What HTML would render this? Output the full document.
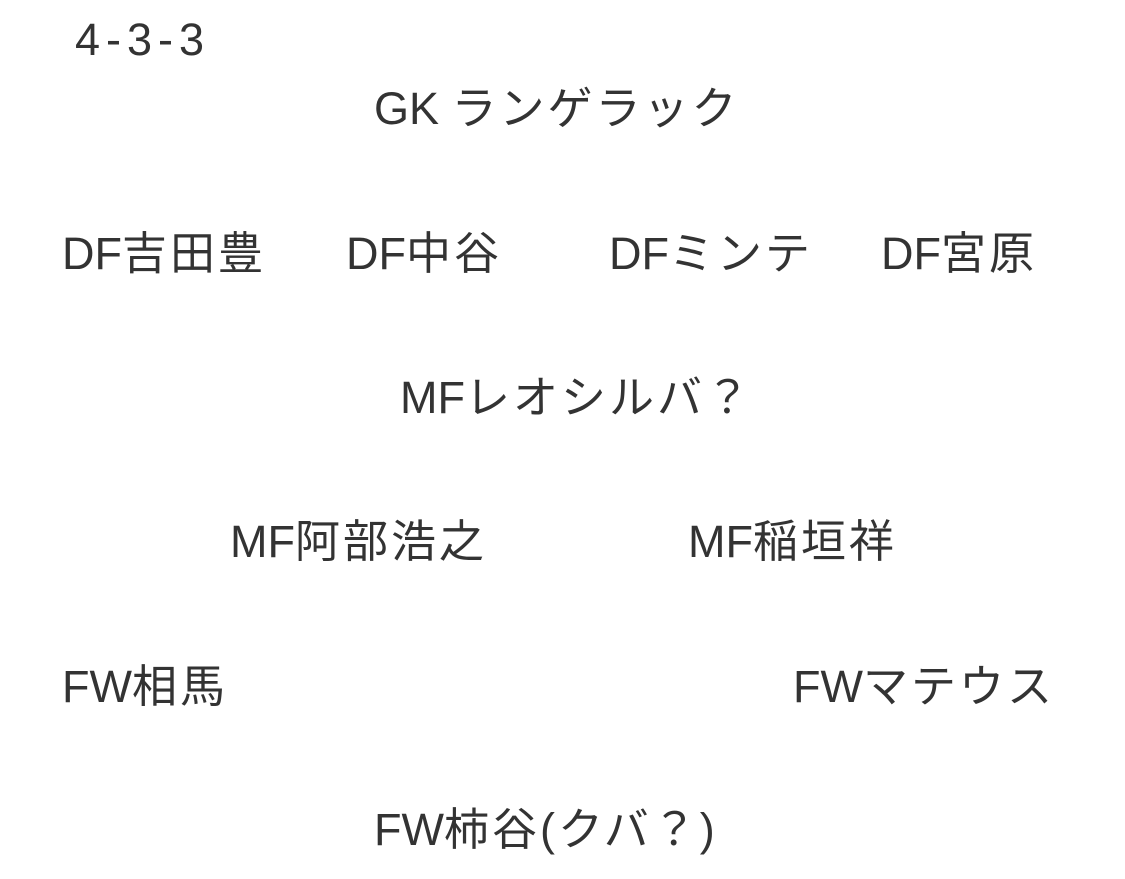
<!DOCTYPE html>
<html><head><meta charset="utf-8"><style>
html,body{margin:0;padding:0;background:#fff;width:1125px;height:879px;overflow:hidden}
div{position:absolute;font-family:"Liberation Sans","Noto Sans CJK JP",sans-serif;font-size:45px;line-height:45px;color:#333;white-space:nowrap}
span{letter-spacing:3px}
</style></head><body>
<div style="left:75px;top:17px;letter-spacing:6px">4-3-3</div>
<div style="left:374px;top:86px">GK <span>ランゲラック</span></div>
<div style="left:62px;top:231px">DF<span>吉田豊</span></div>
<div style="left:346px;top:231px">DF<span>中谷</span></div>
<div style="left:609px;top:231px">DF<span>ミンテ</span></div>
<div style="left:881px;top:231px">DF<span>宮原</span></div>
<div style="left:400px;top:375px">MF<span>レオシルバ？</span></div>
<div style="left:230px;top:519px">MF<span>阿部浩之</span></div>
<div style="left:688px;top:519px">MF<span>稲垣祥</span></div>
<div style="left:62px;top:664px">FW<span>相馬</span></div>
<div style="left:793px;top:664px">FW<span>マテウス</span></div>
<div style="left:374px;top:807px">FW<span>柿谷(クバ？)</span></div>
</body></html>
